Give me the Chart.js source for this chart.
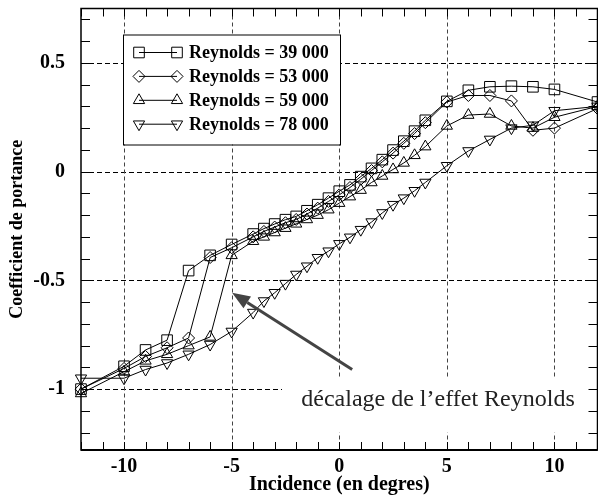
<!DOCTYPE html>
<html><head><meta charset="utf-8">
<script src="https://cdn.jsdelivr.net/npm/chart.js@4/dist/chart.umd.min.js"></script>
<style>
html,body{margin:0;padding:0;background:#fff;overflow:hidden;width:598px;height:497px;}
#wrap{position:absolute;left:0;top:0;width:606px;height:497px;}
canvas{display:block;}
</style></head><body>
<div id="wrap"><canvas id="c" width="606" height="497"></canvas></div>
<script>
// ---- data ----
const incidence = [-12,-10,-9,-8,-7,-6,-5,-4,-3.5,-3,-2.5,-2,-1.5,-1,-0.5,0,0.5,1,1.5,2,2.5,3,3.5,4,5,6,7,8,9,10,12];
const cl39000 = [-1.0,-0.895,-0.82,-0.775,-0.455,-0.385,-0.335,-0.287,-0.262,-0.241,-0.221,-0.206,-0.18,-0.152,-0.122,-0.09,-0.061,-0.023,0.015,0.055,0.099,0.14,0.186,0.236,0.323,0.374,0.39,0.393,0.39,0.378,0.32];
const cl53000 = [-1.0,-0.905,-0.85,-0.81,-0.765,-0.395,-0.35,-0.30,-0.275,-0.255,-0.235,-0.22,-0.195,-0.168,-0.137,-0.107,-0.073,-0.035,0.005,0.045,0.085,0.13,0.175,0.225,0.32,0.35,0.35,0.325,0.19,0.2,0.29];
const cl59000 = [-1.02,-0.92,-0.87,-0.84,-0.80,-0.76,-0.385,-0.32,-0.30,-0.28,-0.26,-0.24,-0.22,-0.20,-0.175,-0.145,-0.115,-0.085,-0.05,-0.02,0.01,0.04,0.075,0.115,0.21,0.26,0.265,0.21,0.20,0.25,0.30];
const cl78000 = [-0.95,-0.95,-0.91,-0.88,-0.84,-0.795,-0.735,-0.648,-0.595,-0.557,-0.515,-0.473,-0.435,-0.396,-0.366,-0.332,-0.302,-0.267,-0.232,-0.19,-0.152,-0.122,-0.088,-0.05,0.027,0.095,0.148,0.20,0.213,0.28,0.30];
const seriesLabels = ['Reynolds = 39 000','Reynolds = 53 000','Reynolds = 59 000','Reynolds = 78 000'];
const xTickLabels = [-10,-5,0,5,10];
const yTickLabels = [-1,-0.5,0,0.5];
const xTitle = 'Incidence (en degres)';
const yTitle = 'Coefficient de portance';
const noteText = 'décalage de l\u2019effet Reynolds';
const arrowTail = {x: 0.6, y: -0.91};
const arrowTip = {x: -4.98, y: -0.557};

const FONT = '"Liberation Serif", "Times New Roman", serif';
const styles = [
  {pointStyle:'rect', radius:7.5, rotation:0},
  {pointStyle:'rectRot', radius:6, rotation:0},
  {pointStyle:'triangle', radius:6.5, rotation:0},
  {pointStyle:'triangle', radius:6.5, rotation:180}
];
const allCl = [cl39000, cl53000, cl59000, cl78000];

function near(v, arr, eps){ return arr.some(a => Math.abs(a - v) < (eps||1e-6)); }

function marker(ctx, st, x, y){
  const r = st.radius;
  ctx.beginPath();
  if (st.pointStyle === 'rect') {
    const s = Math.SQRT1_2 * r;
    ctx.rect(x - s, y - s, 2*s, 2*s);
  } else if (st.pointStyle === 'rectRot') {
    ctx.moveTo(x, y - r); ctx.lineTo(x + r, y); ctx.lineTo(x, y + r); ctx.lineTo(x - r, y); ctx.closePath();
  } else {
    let rad = st.rotation * Math.PI / 180;
    for (let i = 0; i < 3; i++) {
      const px = x + Math.sin(rad) * r, py = y - Math.cos(rad) * r;
      if (i === 0) ctx.moveTo(px, py); else ctx.lineTo(px, py);
      rad += 2*Math.PI/3;
    }
    ctx.closePath();
  }
  ctx.stroke();
}

const framePlugin = {
  id: 'frame',
  beforeDatasetsDraw(chart) {
    const {ctx, chartArea: a, scales: {x, y}} = chart;
    ctx.save();
    ctx.lineWidth = 1;
    ctx.strokeStyle = '#000'; ctx.setLineDash([5, 3]);
    yTickLabels.forEach(v => {
      const p = Math.round(y.getPixelForValue(v)) + 0.5;
      ctx.beginPath(); ctx.moveTo(a.left, p); ctx.lineTo(a.right, p); ctx.stroke();
    });
    ctx.strokeStyle = '#444'; ctx.setLineDash([4, 3]);
    xTickLabels.forEach(v => {
      const p = Math.round(x.getPixelForValue(v)) + 0.5;
      ctx.beginPath(); ctx.moveTo(p, a.top); ctx.lineTo(p, a.bottom); ctx.stroke();
    });
    ctx.setLineDash([]);
    ctx.fillStyle = '#fff';
    ctx.fillRect(a.left + 42, a.top + 26, 217, 110);
    ctx.fillRect(a.left + 201, a.top + 369, 310, 55);
    ctx.strokeStyle = '#000'; ctx.lineWidth = 1;
    for (let i = Math.ceil(x.min); i <= Math.floor(x.max); i++) {
      const p = Math.round(x.getPixelForValue(i)) + 0.5;
      ctx.beginPath(); ctx.moveTo(p, a.bottom); ctx.lineTo(p, a.bottom - 8); ctx.stroke();
      ctx.beginPath(); ctx.moveTo(p, a.top); ctx.lineTo(p, a.top + 8); ctx.stroke();
    }
    for (let i = Math.ceil(y.min * 10 - 1e-6); i <= Math.floor(y.max * 10 + 1e-6); i++) {
      const p = Math.round(y.getPixelForValue(i / 10)) + 0.5;
      ctx.beginPath(); ctx.moveTo(a.left, p); ctx.lineTo(a.left + 9, p); ctx.stroke();
      ctx.beginPath(); ctx.moveTo(a.right, p); ctx.lineTo(a.right - 9, p); ctx.stroke();
    }
    ctx.lineWidth = 1.5;
    ctx.strokeRect(a.left, a.top, a.right - a.left, a.bottom - a.top);
    ctx.lineWidth = 2;
    ctx.beginPath(); ctx.moveTo(a.left, a.bottom); ctx.lineTo(a.right, a.bottom); ctx.stroke();
    ctx.restore();
  },
  afterDatasetsDraw(chart) {
    const {ctx, chartArea: a, scales: {x, y}} = chart;
    ctx.save();
    const lx = a.left + 42, ly = a.top + 26;
    ctx.strokeStyle = '#000'; ctx.lineWidth = 1;
    ctx.strokeRect(lx + 0.5, ly + 0.5, 217, 110);
    ctx.font = 'bold 18px ' + FONT;
    ctx.fillStyle = '#000'; ctx.textBaseline = 'middle'; ctx.textAlign = 'left';
    seriesLabels.forEach((lab, i) => {
      const cy = ly + 18 + i * 23.9;
      const x1 = lx + 16, x2 = lx + 54;
      ctx.beginPath(); ctx.moveTo(x1, cy); ctx.lineTo(x2, cy); ctx.stroke();
      marker(ctx, styles[i], x1, cy);
      marker(ctx, styles[i], x2, cy);
      ctx.fillText(lab, lx + 66, cy + 1);
    });
    ctx.font = '24px ' + FONT;
    ctx.fillStyle = '#222'; ctx.textAlign = 'center'; ctx.textBaseline = 'alphabetic';
    ctx.fillText(noteText, a.left + 357, a.top + 397);
    const tx = x.getPixelForValue(arrowTail.x), ty = y.getPixelForValue(arrowTail.y);
    const hx = x.getPixelForValue(arrowTip.x), hy = y.getPixelForValue(arrowTip.y);
    const ang = Math.atan2(hy - ty, hx - tx);
    const L = 18, W = 7;
    const bx = hx - Math.cos(ang) * L, by = hy - Math.sin(ang) * L;
    ctx.strokeStyle = '#444'; ctx.fillStyle = '#444'; ctx.lineWidth = 3;
    ctx.beginPath(); ctx.moveTo(tx, ty); ctx.lineTo(bx, by); ctx.stroke();
    ctx.beginPath();
    ctx.moveTo(hx, hy);
    ctx.lineTo(bx + Math.sin(ang) * W, by - Math.cos(ang) * W);
    ctx.lineTo(bx - Math.sin(ang) * W, by + Math.cos(ang) * W);
    ctx.closePath(); ctx.fill();
    ctx.restore();
  }
};

const datasets = allCl.map((cl, i) => ({
  label: seriesLabels[i],
  data: incidence.map((a, k) => ({x: a, y: cl[k]})),
  borderColor: '#000',
  borderWidth: 1,
  pointStyle: styles[i].pointStyle,
  pointRadius: styles[i].radius,
  pointRotation: styles[i].rotation,
  pointBorderColor: '#000',
  pointBorderWidth: 1,
  pointBackgroundColor: 'rgba(0,0,0,0)',
  backgroundColor: 'rgba(0,0,0,0)',
  fill: false,
  tension: 0,
  clip: false
}));

new Chart(document.getElementById('c'), {
  type: 'line',
  data: {datasets},
  options: {
    responsive: false,
    animation: false,
    devicePixelRatio: 1,
    layout: {padding: {top: 6, right: 3, left: 0, bottom: 0}},
    plugins: {legend: {display: false}, tooltip: {enabled: false}},
    scales: {
      x: {
        type: 'linear', min: -12, max: 12,
        grid: {display: false, drawTicks: false},
        border: {display: false},
        ticks: {
          stepSize: 1, autoSkip: false, maxRotation: 0, padding: 5,
          color: '#000', font: {family: FONT, size: 20, weight: 'bold'},
          callback: v => near(v, xTickLabels) ? String(Math.round(v)) : ''
        },
        title: {display: true, text: xTitle, color: '#000', padding: {top: 0, bottom: 0},
                font: {family: FONT, size: 20, weight: 'bold'}},
        afterFit: s => { s.height = 47; s.paddingLeft = 0; s.paddingRight = 0; }
      },
      y: {
        type: 'linear', min: -1.28, max: 0.75,
        grid: {display: false, drawTicks: false},
        border: {display: false},
        ticks: {
          stepSize: 0.1, autoSkip: false, padding: 16,
          color: '#000', font: {family: FONT, size: 20, weight: 'bold'},
          callback: v => near(v, yTickLabels) ? String(Math.round(v * 2) / 2) : ''
        },
        title: {display: true, text: yTitle, color: '#000', padding: {top: 7, bottom: 0},
                font: {family: FONT, size: 18, weight: 'bold'}},
        afterFit: s => { s.width = 81; s.paddingTop = 0; s.paddingBottom = 0; }
      }
    }
  },
  plugins: [framePlugin]
});
</script>
</body></html>
